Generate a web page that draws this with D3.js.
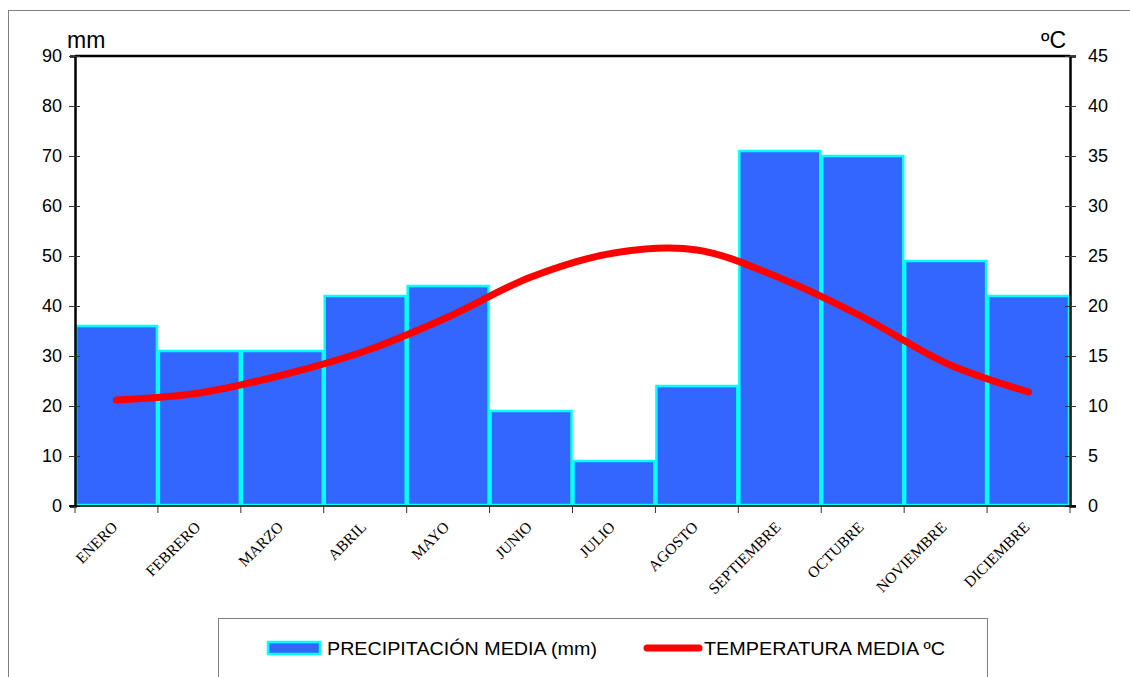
<!DOCTYPE html>
<html><head><meta charset="utf-8">
<script src="https://cdn.jsdelivr.net/npm/d3@7"></script>
<style>body{margin:0;background:#fff}svg{display:block}</style>
</head><body>
<script>
const months = ["ENERO","FEBRERO","MARZO","ABRIL","MAYO","JUNIO","JULIO","AGOSTO","SEPTIEMBRE","OCTUBRE","NOVIEMBRE","DICIEMBRE"];
const precipitation = [36,31,31,42,44,19,9,24,71,70,49,42];
const temperature = [10.6,11.3,13.1,15.5,18.9,22.9,25.3,25.6,22.8,18.9,14.3,11.4];
const leftTicks = [0,10,20,30,40,50,60,70,80,90];
const rightTicks = [0,5,10,15,20,25,30,35,40,45];
const legendLabels = ["PRECIPITACIÓN MEDIA (mm)","TEMPERATURA MEDIA ºC"];

const W=1130,H=677;
const m={l:75,r:1070,t:56,b:506};
const svg=d3.select("body").append("svg").attr("width",W).attr("height",H);

// outer frame
svg.append("rect").attr("x",8.5).attr("y",10.5).attr("width",1140).attr("height",700)
  .attr("fill","none").attr("stroke","#808080").attr("stroke-width",1);

const x=d3.scaleBand().domain(months).range([m.l,m.r]).padding(0);
const yL=d3.scaleLinear().domain([0,90]).range([m.b,m.t]);
const yR=d3.scaleLinear().domain([0,45]).range([m.b,m.t]);

// bars
svg.append("g").selectAll("rect").data(precipitation).join("rect")
  .attr("x",(d,i)=>x(months[i])+1)
  .attr("y",d=>yL(d))
  .attr("width",x.bandwidth()-2)
  .attr("height",d=>m.b-yL(d)-1)
  .attr("fill","#3366FF").attr("stroke","#00FFFF").attr("stroke-width",2.5);

// plot top border
svg.append("line").attr("x1",m.l).attr("x2",m.r).attr("y1",m.t).attr("y2",m.t)
  .attr("stroke","#000").attr("stroke-width",2.5);

// left axis
const gL=svg.append("g").attr("transform",`translate(${m.l},0)`)
  .call(d3.axisLeft(yL).tickValues(leftTicks).tickSize(5).tickPadding(8));
gL.select(".domain").attr("stroke-width",2.5);
gL.selectAll(".tick line").attr("x2",-6).attr("x1",5).attr("stroke","#333");
gL.selectAll("text").attr("font-family","Liberation Sans, Arial, sans-serif").attr("font-size",18).attr("fill","#000");

// right axis
const gR=svg.append("g").attr("transform",`translate(${m.r},0)`)
  .call(d3.axisRight(yR).tickValues(rightTicks).tickSize(6).tickPadding(12));
gR.select(".domain").attr("stroke-width",2.5);
gR.selectAll(".tick line").attr("x1",-5).attr("stroke","#333");
gR.selectAll("text").attr("font-family","Liberation Sans, Arial, sans-serif").attr("font-size",18).attr("fill","#000");

// bottom axis
const boundaries=d3.scaleLinear().domain([0,12]).range([m.l,m.r]);
svg.append("line").attr("x1",m.l-6).attr("x2",m.r+6).attr("y1",m.b).attr("y2",m.b)
  .attr("stroke","#000").attr("stroke-width",1.5);
svg.append("g").selectAll("line").data(d3.range(13)).join("line")
  .attr("x1",d=>boundaries(d)).attr("x2",d=>boundaries(d))
  .attr("y1",m.b).attr("y2",m.b+7).attr("stroke","#333").attr("stroke-width",1);

svg.append("g").selectAll("text").data(months).join("text")
  .attr("x",0).attr("y",0)
  .attr("transform",d=>"translate(" + (x(d)+x.bandwidth()/2+2) + "," + (m.b+22) + ") rotate(-45)")
  .attr("text-anchor","end")
  .attr("font-family","Liberation Serif, Times New Roman, serif")
  .attr("font-size",15.5).attr("fill","#000")
  .text(d=>d);

// temperature line
const line=d3.line().x((d,i)=>x(months[i])+x.bandwidth()/2).y(d=>yR(d)).curve(d3.curveCatmullRom.alpha(0.5));
svg.append("path").datum(temperature).attr("d",line)
  .attr("fill","none").attr("stroke","#FF0000").attr("stroke-width",7).attr("stroke-linecap","round");

// axis titles
svg.append("text").attr("x",67).attr("y",48).attr("font-family","Liberation Sans, Arial, sans-serif")
  .attr("font-size",23).text("mm");
svg.append("text").attr("x",1066).attr("y",48).attr("text-anchor","end").attr("font-family","Liberation Sans, Arial, sans-serif")
  .attr("font-size",23).text("ºC");

// legend
svg.append("rect").attr("x",218.5).attr("y",618.5).attr("width",769).attr("height",80)
  .attr("fill","#fff").attr("stroke","#808080").attr("stroke-width",1);
svg.append("rect").attr("x",268).attr("y",642).attr("width",52).attr("height",12)
  .attr("fill","#3366FF").attr("stroke","#00FFFF").attr("stroke-width",2.5);
svg.append("text").attr("x",327).attr("y",655).attr("font-family","Liberation Sans, Arial, sans-serif")
  .attr("font-size",18).attr("textLength",270).attr("lengthAdjust","spacingAndGlyphs").text(legendLabels[0]);
svg.append("line").attr("x1",647).attr("x2",699).attr("y1",648).attr("y2",648)
  .attr("stroke","#FF0000").attr("stroke-width",7).attr("stroke-linecap","round");
svg.append("text").attr("x",704).attr("y",655).attr("font-family","Liberation Sans, Arial, sans-serif")
  .attr("font-size",18).attr("textLength",241).attr("lengthAdjust","spacingAndGlyphs").text(legendLabels[1]);
</script>
</body></html>
